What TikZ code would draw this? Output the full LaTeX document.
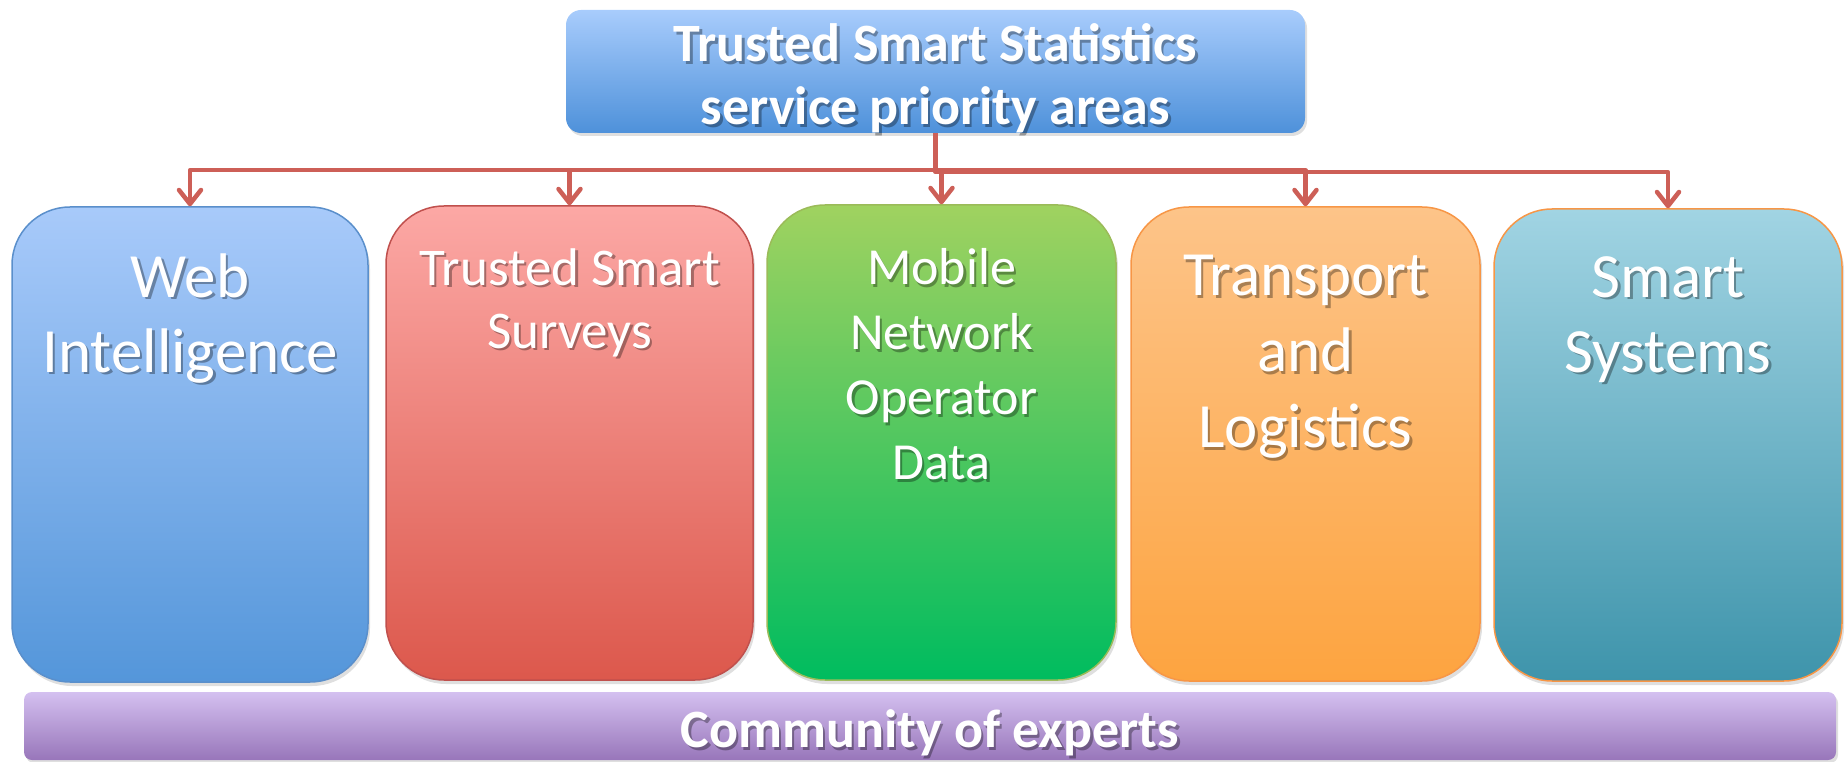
\documentclass[tikz,border=0pt]{standalone}
\usepackage{fontspec}
\setmainfont{Carlito}
\usetikzlibrary{positioning,arrows.meta,shadows}

\definecolor{linkred}{HTML}{CD5F57}
\definecolor{headtop}{HTML}{A8CCFC}
\definecolor{headbot}{HTML}{4E91DA}
\definecolor{webtop}{HTML}{A8CAFA}
\definecolor{webbot}{HTML}{5496DA}
\definecolor{webline}{HTML}{5A8FCB}
\definecolor{survtop}{HTML}{FCA8A5}
\definecolor{survbot}{HTML}{DC584C}
\definecolor{survline}{HTML}{C0504D}
\definecolor{mobtop}{HTML}{A0D260}
\definecolor{mobbot}{HTML}{00BC5F}
\definecolor{mobline}{HTML}{9BBB59}
\definecolor{transtop}{HTML}{FDC489}
\definecolor{transbot}{HTML}{FDA440}
\definecolor{orangeline}{HTML}{F79646}
\definecolor{smarttop}{HTML}{A1D4E3}
\definecolor{smartbot}{HTML}{3E94AB}
\definecolor{commtop}{HTML}{D4C0F0}
\definecolor{commbot}{HTML}{9876BA}

% white text with a soft shadow
\newcommand\shtxt[1]{\leavevmode\rlap{\kern2.5pt\raisebox{-2.5pt}{\pgfsetfillopacity{0.33}\textcolor{black}{#1}\pgfsetfillopacity{1}}}#1}

\begin{document}
\begin{tikzpicture}[x=1pt, y=-1pt,
    area/.style={rectangle, rounded corners=58pt, line width=1.5pt, inner sep=0pt,
      drop shadow={shadow xshift=2pt, shadow yshift=-4pt, opacity=0.25}},
    bar/.style={rectangle, inner sep=0pt,
      drop shadow={shadow xshift=2pt, shadow yshift=-3pt, opacity=0.25}},
    areatext/.style={text=white, align=center, inner sep=0pt},
    link/.style={draw=linkred, line width=4.5pt, line join=round,
      -{Straight Barb[length=14pt, width=22pt, round]}}
  ]
  \useasboundingbox (0,0) rectangle (1845,762);

  % Header box
  \node[bar, rounded corners=15pt, top color=headtop, bottom color=headbot,
    minimum width=739pt, minimum height=123pt] (head) at (935.5,71.5) {};
  \node[areatext, font=\fontsize{54}{63}\selectfont\bfseries, below=14pt of head.north] (headtext)
    {\shtxt{Trusted Smart Statistics}\\\shtxt{service priority areas}};

  % Web Intelligence
  \node[area, draw=webline, top color=webtop, bottom color=webbot,
    minimum width=356pt, minimum height=475pt] (web) at (190,444.5) {};
  \node[areatext, font=\fontsize{63}{75}\selectfont, below=47pt of web.north] (webtext)
    {\shtxt{Web}\\\shtxt{Intelligence}};

  % Trusted Smart Surveys
  \node[area, draw=survline, top color=survtop, bottom color=survbot,
    minimum width=367pt, minimum height=474pt] (surveys) at (569.5,443) {};
  \node[areatext, font=\fontsize{53}{63}\selectfont, below=43pt of surveys.north] (surveystext)
    {\shtxt{Trusted Smart}\\\shtxt{Surveys}};

  % Mobile Network Operator Data
  \node[area, draw=mobline, top color=mobtop, bottom color=mobbot,
    minimum width=349pt, minimum height=475pt] (mobile) at (941.5,442.5) {};
  \node[areatext, font=\fontsize{52}{65}\selectfont, below=44pt of mobile.north] (mobiletext)
    {\shtxt{Mobile}\\\shtxt{Network}\\\shtxt{Operator}\\\shtxt{Data}};

  % Transport and Logistics
  \node[area, draw=orangeline, top color=transtop, bottom color=transbot,
    minimum width=349pt, minimum height=474pt] (transport) at (1305.5,444) {};
  \node[areatext, font=\fontsize{63}{76}\selectfont, below=49pt of transport.north] (transporttext)
    {\shtxt{Transport}\\\shtxt{and}\\\shtxt{Logistics}};

  % Smart Systems
  \node[area, draw=orangeline, top color=smarttop, bottom color=smartbot,
    minimum width=348pt, minimum height=472pt] (smart) at (1668,445) {};
  \node[areatext, font=\fontsize{63}{75}\selectfont, below=48pt of smart.north] (smarttext)
    {\shtxt{Smart}\\\shtxt{Systems}};

  % Community bar
  \node[bar, rounded corners=8pt, top color=commtop, bottom color=commbot,
    minimum width=1812pt, minimum height=68pt] (comm) at (930,726) {};
  \node[areatext, font=\fontsize{54}{62}\selectfont\bfseries, below=18pt of comm.north] (commtext)
    {\shtxt{Community of experts}};

  % Connectors
  \draw[link] (head.south) -- ++(0,37) -| (web.north);
  \draw[link] (head.south) -- ++(0,37) -| (surveys.north);
  \draw[link] (head.south) -- ++(0,37) -| (mobile.north);
  \draw[link] (head.south) -- ++(0,37) -| (transport.north);
  \draw[link] (head.south) -- ++(0,39) -| (smart.north);
\end{tikzpicture}
\end{document}
